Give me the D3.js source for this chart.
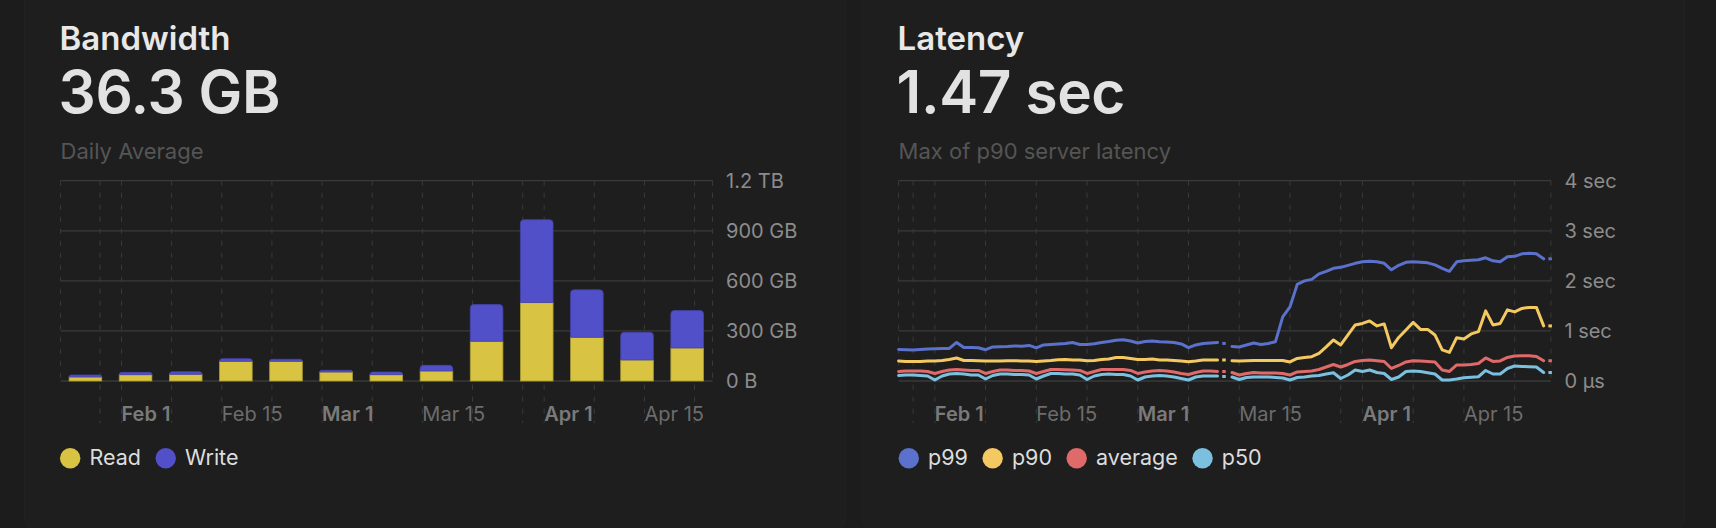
<!DOCTYPE html>
<html><head><meta charset="utf-8">
<script src="https://cdn.jsdelivr.net/npm/d3@7"></script>
<style>
html,body{margin:0;padding:0;background:#1c1c1c;}
svg{display:block;font-family:Inter,"Noto Sans",sans-serif;}
</style></head><body>
<svg id="chart" width="1716" height="528"></svg>
<script>
// ---------- Bandwidth (weekly, GB) ----------
const bwWeeks = ["2023-01-23","2023-01-30","2023-02-06","2023-02-13","2023-02-20","2023-02-27","2023-03-06","2023-03-13","2023-03-20","2023-03-27","2023-04-03","2023-04-10","2023-04-17"];
const bwRead  = [24, 38, 40, 118, 118, 54, 38, 60, 238, 470, 262, 126, 198];
const bwWrite = [12, 14, 16, 16, 12, 10, 16, 34, 220, 496, 284, 166, 224];
const bwTicks = [0, 300, 600, 900, 1200];
const bwTickLabels = ["0 B", "300 GB", "600 GB", "900 GB", "1.2 TB"];
const bwSeries = ["Read", "Write"];

// ---------- Latency (daily, seconds) ----------
const latStart = "2023-01-27";
const latEnd = "2023-04-27";
const p99 = [0.63,0.625,0.62,0.63,0.64,0.645,0.65,0.65,0.77,0.67,
  0.67,0.665,0.625,0.68,0.685,0.69,0.70,0.695,0.71,0.66,
  0.72,0.73,0.74,0.75,0.77,0.73,0.73,0.745,0.77,0.79,
  0.815,0.825,0.80,0.76,0.79,0.80,0.785,0.78,0.77,0.74,
  0.665,0.72,0.75,0.76,0.77,0.75,0.69,0.68,0.72,0.76,
  0.73,0.75,0.785,1.28,1.48,1.93,2.00,2.03,2.14,2.19,
  2.25,2.27,2.31,2.35,2.38,2.39,2.38,2.35,2.22,2.31,
  2.37,2.38,2.37,2.36,2.32,2.25,2.19,2.38,2.40,2.41,
  2.42,2.46,2.40,2.38,2.48,2.49,2.54,2.55,2.54,2.44,
  2.44];
const p90 = [0.40,0.39,0.39,0.39,0.40,0.40,0.41,0.43,0.46,0.41,
  0.41,0.405,0.40,0.40,0.40,0.405,0.405,0.40,0.40,0.39,
  0.40,0.41,0.425,0.43,0.42,0.42,0.405,0.41,0.43,0.44,
  0.47,0.47,0.45,0.43,0.43,0.44,0.42,0.42,0.41,0.40,
  0.385,0.40,0.42,0.42,0.42,0.42,0.405,0.40,0.405,0.41,
  0.41,0.41,0.41,0.41,0.38,0.45,0.47,0.485,0.55,0.68,
  0.82,0.72,0.92,1.12,1.15,1.20,1.10,1.14,0.665,0.87,
  1.02,1.17,1.03,1.03,0.92,0.62,0.57,0.865,0.84,0.94,
  0.985,1.40,1.12,1.15,1.42,1.38,1.45,1.47,1.47,1.10,
  1.10];
const avgLat = [0.19,0.20,0.20,0.20,0.19,0.15,0.19,0.22,0.23,0.22,
  0.21,0.21,0.15,0.19,0.22,0.22,0.21,0.21,0.20,0.15,
  0.19,0.23,0.23,0.225,0.22,0.21,0.15,0.19,0.23,0.23,
  0.23,0.23,0.21,0.15,0.18,0.20,0.21,0.20,0.18,0.15,
  0.13,0.17,0.20,0.20,0.19,0.19,0.17,0.12,0.15,0.17,
  0.16,0.16,0.16,0.15,0.12,0.18,0.19,0.20,0.23,0.28,
  0.33,0.28,0.33,0.39,0.41,0.42,0.405,0.39,0.25,0.31,
  0.38,0.405,0.40,0.39,0.38,0.22,0.19,0.32,0.32,0.33,
  0.35,0.46,0.39,0.40,0.47,0.50,0.505,0.505,0.49,0.405,
  0.405];
const p50 = [0.11,0.12,0.12,0.11,0.10,0.02,0.10,0.14,0.15,0.14,
  0.12,0.12,0.04,0.11,0.14,0.14,0.13,0.13,0.12,0.04,
  0.10,0.15,0.15,0.14,0.14,0.12,0.03,0.10,0.13,0.14,
  0.13,0.13,0.10,0.02,0.08,0.10,0.11,0.10,0.08,0.05,
  0.02,0.08,0.10,0.10,0.10,0.09,0.08,0.03,0.07,0.08,
  0.08,0.08,0.07,0.06,0.02,0.07,0.08,0.10,0.11,0.14,
  0.165,0.05,0.12,0.22,0.19,0.22,0.17,0.15,0.03,0.08,
  0.19,0.20,0.19,0.165,0.14,0.02,0.02,0.04,0.065,0.075,
  0.085,0.21,0.14,0.14,0.25,0.30,0.29,0.285,0.28,0.17,
  0.17];
const latBreaks = [45, 46, 90];   // the line is broken before these day indices
const latTicks = [0, 1, 2, 3, 4];
const latTickLabels = ["0 µs", "1 sec", "2 sec", "3 sec", "4 sec"];
const latSeries = ["p99", "p90", "average", "p50"];

// ---------- styles ----------
const C = {
  grid: "#3a3a3a", tick: "#8c8c8c", xtick: "#6c6c6c", xtickBold: "#7a7a7a",
  title: "#e8e8e8", value: "#e2e2e2", sub: "#555555", legend: "#dddddd",
  read: "#d8c442", write: "#5250c9",
  p99: "#5b71cc", p90: "#f5c962", average: "#e0696a", p50: "#7cc0e0"
};
const TOP = 180.7, BOTTOM = 381, TICKBOTTOM = 423;

const svg = d3.select("#chart");
// cards
svg.append("rect").attr("x", 24.5).attr("y", -30).attr("width", 821).attr("height", 568)
  .attr("rx", 22).attr("fill", "#1e1e1e").attr("stroke", "#222222");
svg.append("rect").attr("x", 862.5).attr("y", -30).attr("width", 822).attr("height", 568)
  .attr("rx", 22).attr("fill", "#1e1e1e").attr("stroke", "#222222");

function header(x0, title, value, sub) {
  svg.append("text").attr("x", x0 - 1).attr("y", 50).attr("fill", C.title)
    .attr("font-size", 33).attr("font-weight", 600).text(title);
  svg.append("text").attr("x", x0 - 2).attr("y", 113.3).attr("fill", C.value)
    .attr("font-size", 58.5).attr("font-weight", 600).attr("letter-spacing", -0.4).text(value);
  svg.append("text").attr("x", x0).attr("y", 158.7).attr("fill", C.sub)
    .attr("font-size", 22).text(sub);
}

function frame(x, y, yTicks, yLabels) {
  const [x0, x1] = x.range();
  const g = svg.append("g");
  g.selectAll("line.h").data(yTicks).join("line")
    .attr("x1", x0).attr("x2", x1).attr("y1", d => y(d)).attr("y2", d => y(d))
    .attr("stroke", C.grid).attr("stroke-width", 1.3);
  const ticks = x.ticks(d3.utcDay.every(7));
  g.selectAll("line.v").data(ticks).join("line")
    .attr("x1", d => x(d)).attr("x2", d => x(d)).attr("y1", TOP).attr("y2", TICKBOTTOM)
    .attr("stroke", C.grid).attr("stroke-width", 1).attr("stroke-dasharray", "5,7");
  g.selectAll("line.e").data([x0, x1]).join("line")
    .attr("x1", d => d).attr("x2", d => d).attr("y1", TOP).attr("y2", BOTTOM)
    .attr("stroke", C.grid).attr("stroke-width", 1).attr("stroke-dasharray", "5,7");
  const lab = ticks.filter(d => d.getUTCDate() === 1 || d.getUTCDate() === 15);
  g.selectAll("text.x").data(lab).join("text")
    .attr("x", d => x(d)).attr("y", 420.7).attr("font-size", 20)
    .attr("font-weight", d => d.getUTCDate() === 1 ? 600 : 400)
    .attr("fill", d => d.getUTCDate() === 1 ? C.xtickBold : C.xtick)
    .text(d => d3.utcFormat("%b %-d")(d));
  g.selectAll("text.y").data(yTicks).join("text")
    .attr("x", x1 + 13.5).attr("y", d => y(d) + 6.8).attr("font-size", 20)
    .attr("fill", C.tick).text((d, i) => yLabels[i]);
}

function legend(x0, names, colors) {
  let cx = x0;
  names.forEach((n, i) => {
    svg.append("circle").attr("cx", cx + 10.2).attr("cy", 458.3).attr("r", 10.2).attr("fill", colors[i]);
    const t = svg.append("text").attr("x", cx + 29.5).attr("y", 465.3).attr("font-size", 21.5)
      .attr("fill", C.legend).text(n);
    cx = cx + 29.5 + t.node().getComputedTextLength() + 14.5;
  });
}

// ================= Bandwidth =================
const parse = d3.utcParse("%Y-%m-%d");
const weeks = bwWeeks.map(parse);
const bx = d3.scaleUtc()
  .domain([d3.utcHour.offset(weeks[0], 12), d3.utcHour.offset(weeks[weeks.length - 1], 12 + 168)])
  .range([60.6, 712.5]);
const by = d3.scaleLinear().domain([0, 1200]).range([BOTTOM, TOP]);

header(60.6, "Bandwidth", "36.3 GB", "Daily Average");
frame(bx, by, bwTicks, bwTickLabels);

function roundTop(x, y, w, h, r) {
  r = Math.min(r, h, w / 2);
  return `M${x},${y + h}V${y + r}Q${x},${y} ${x + r},${y}H${x + w - r}Q${x + w},${y} ${x + w},${y + r}V${y + h}Z`;
}
const bars = svg.append("g");
weeks.forEach((w, i) => {
  const xa = bx(d3.utcHour.offset(w, 12)) + 8.5;
  const xb = bx(d3.utcHour.offset(w, 12 + 168)) - 9;
  const yr = by(bwRead[i]);
  const yt = by(bwRead[i] + bwWrite[i]);
  bars.append("rect").attr("x", xa).attr("y", yr).attr("width", xb - xa).attr("height", BOTTOM - yr)
    .attr("fill", C.read).attr("stroke", d3.color(C.read).darker(0.7)).attr("stroke-width", 0.8);
  bars.append("path").attr("d", roundTop(xa, yt, xb - xa, yr - yt, 3.5))
    .attr("fill", C.write).attr("stroke", d3.color(C.write).darker(0.5)).attr("stroke-width", 0.8);
});
legend(60, bwSeries, [C.read, C.write]);

// ================= Latency =================
const d0 = parse(latStart);
const dates = d3.utcDay.range(d0, d3.utcDay.offset(parse(latEnd), 1));
const lx = d3.scaleUtc().domain([d0, parse(latEnd)]).range([898.6, 1550.9]);
const ly = d3.scaleLinear().domain([0, 4]).range([BOTTOM, TOP]);

header(898.6, "Latency", "1.47 sec", "Max of p90 server latency");
frame(lx, ly, latTicks, latTickLabels);

const lineGen = d3.line().x(d => lx(d.date)).y(d => ly(d.v));
const lg = svg.append("g");
[[p99, C.p99], [p90, C.p90], [avgLat, C.average], [p50, C.p50]].forEach(([vals, col]) => {
  const segs = []; let cur = [];
  vals.forEach((v, i) => {
    if (latBreaks.includes(i) && cur.length) { segs.push(cur); cur = []; }
    cur.push({ date: dates[i], v });
  });
  if (cur.length) segs.push(cur);
  segs.forEach(s => {
    if (s.length > 1) {
      lg.append("path").attr("d", lineGen(s)).attr("fill", "none").attr("stroke", col)
        .attr("stroke-width", 3).attr("stroke-linejoin", "round").attr("stroke-linecap", "round");
    } else {
      lg.append("line").attr("x1", lx(s[0].date) - 2.5).attr("x2", lx(s[0].date) + 1)
        .attr("y1", ly(s[0].v)).attr("y2", ly(s[0].v))
        .attr("stroke", col).attr("stroke-width", 3);
    }
  });
});
legend(898.6, latSeries, [C.p99, C.p90, C.average, C.p50]);
</script>
</body></html>
